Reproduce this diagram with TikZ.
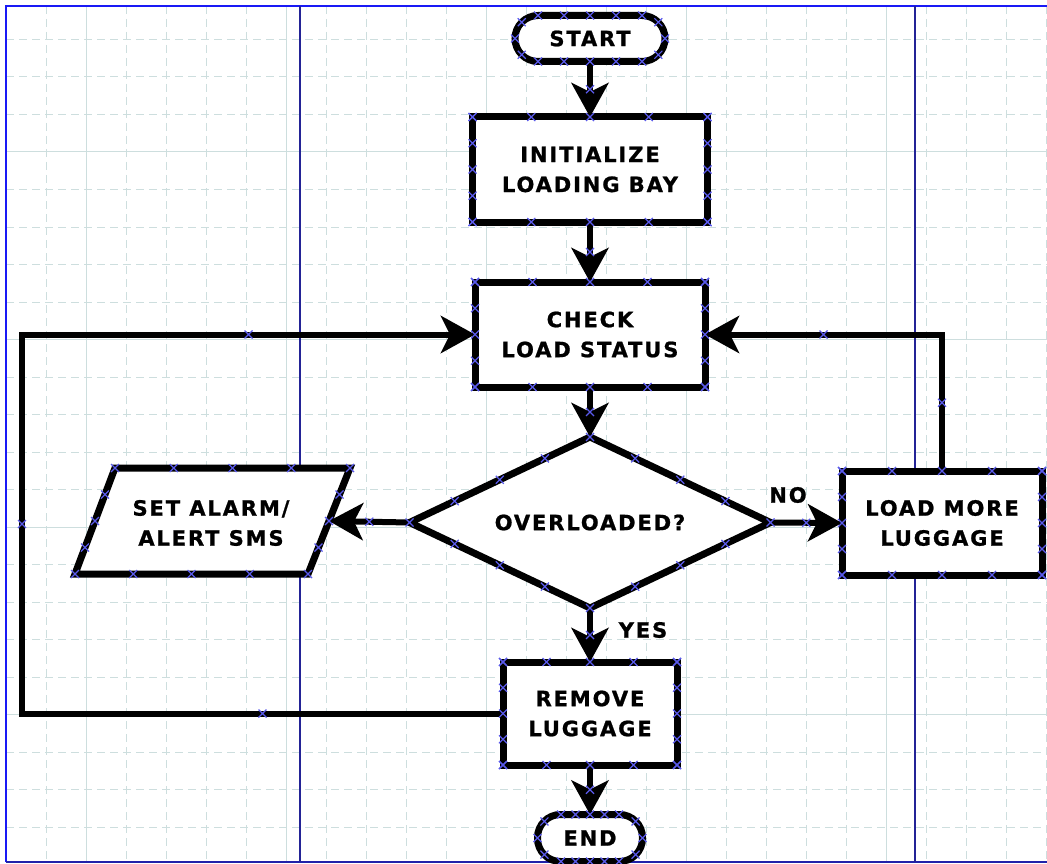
\documentclass[tikz,border=0pt]{standalone}
\usepackage{fontspec}
\newfontfamily\chartfont{DejaVu Sans}[LetterSpace=9,FakeBold=1]
\usetikzlibrary{arrows.meta,shapes.geometric,calc}

\definecolor{gridline}{RGB}{205,222,222}
\definecolor{pageblue}{RGB}{25,25,245}
\definecolor{guideblue}{RGB}{35,35,150}
\definecolor{markblue}{RGB}{90,90,235}

\tikzset{
  chartfontstyle/.style={font=\chartfont\bfseries\fontsize{21}{30}\selectfont},
  box/.style={draw=black, line width=7pt, fill=white, outer sep=0pt, inner sep=0pt,
              align=center, chartfontstyle},
  term/.style={box, rounded corners=23pt},
  decision/.style={box, diamond, aspect=2.1},
  lbl/.style={inner sep=0pt, align=center, chartfontstyle},
  shapeline/.style={draw=black, line width=7pt, fill=white},
  conn/.style={draw=black, line width=6pt,
               -{Stealth[length=34pt,width=37pt,inset=9pt]}},
  cpmark/.style={draw=markblue, line width=1.1pt},
  minorgrid/.style={draw=gridline, line width=1pt, dash pattern=on 8pt off 5pt},
  majorgrid/.style={draw=gridline, line width=1pt},
  pageline/.style={draw=pageblue, line width=2pt},
  guideline/.style={draw=guideblue, line width=1.5pt},
}

% small connection-point cross
\newcommand\cpx[1]{\draw[cpmark] #1 ++(-4,-4) -- ++(8,8) ++(-8,0) -- ++(8,-8);}

\begin{document}
\begin{tikzpicture}[x=1pt,y=-1pt]
\useasboundingbox (0,0) rectangle (1047,864);
\clip (0,0) rectangle (1047,864);

% drawing grid
\foreach \k in {1,...,26}{
  \draw[minorgrid] ({6+40*\k},6) -- ({6+40*\k},862);
}
\foreach \k in {1,...,22}{
  \draw[minorgrid] (6,{2+37.5*\k}) -- (1047,{2+37.5*\k});
}
\foreach \gx in {86,286,486,686,886}{
  \draw[majorgrid] (\gx,6) -- (\gx,862);
}
\foreach \gy in {152,339.5,527,714.5}{
  \draw[majorgrid] (6,\gy) -- (1047,\gy);
}

% page edges and guides
\draw[pageline] (6,862) -- (6,6) -- (1047,6);
\draw[draw=guideblue!80!pageblue, line width=1.5pt] (6,862) -- (1047,862);
\draw[guideline] (300,6) -- (300,862);
\draw[guideline] (915,6) -- (915,862);

% flowchart nodes
\node[term, minimum width=150pt, minimum height=46pt] (start) at (590,38.5) {START};
\node[box, minimum width=235pt, minimum height=105pt] (init) at (590,169.5) {INITIALIZE\\LOADING BAY};
\node[box, minimum width=230pt, minimum height=105pt] (check) at (590,334.5) {CHECK\\LOAD STATUS};
\node[decision, minimum width=361pt, minimum height=171pt] (dia) at (590,522.5) {OVERLOADED?};
\node[box, minimum width=200pt, minimum height=104pt] (more) at (942,523) {LOAD MORE\\LUGGAGE};
\node[box, minimum width=174pt, minimum height=103pt] (remove) at (590,713.5) {REMOVE\\LUGGAGE};
\node[term, minimum width=105pt, minimum height=47pt] (end) at (590,838) {END};

% input/output parallelogram
\coordinate (aTL) at (115,468);
\coordinate (aTR) at (350,468);
\coordinate (aBR) at (308,574);
\coordinate (aBL) at (75,574);
\draw[shapeline] (aTL) -- (aTR) -- (aBR) -- (aBL) -- cycle;
\node[lbl] (alarm) at (211,523) {SET ALARM/\\ALERT SMS};
\coordinate (alarmR) at ($(aTR)!0.5!(aBR)$);

% branch labels
\node[lbl] (no) at (788,495) {NO};
\node[lbl] (yes) at (643,630) {YES};

% connectors
\coordinate (leftrail) at (22,0);
\draw[conn] (start.south) -- (init.north);
\draw[conn] (init.south) -- (check.north);
\draw[conn] (check.south) -- (dia.north);
\draw[conn] (dia.west) -- (alarmR);
\draw[conn] (dia.east) -- (more.west);
\draw[conn] (dia.south) -- (remove.north);
\draw[conn] (remove.south) -- (end.north);
\draw[conn] (more.north) |- (check.east);
\draw[conn] (remove.west) -- (remove.west -| leftrail) |- (check.west);

% connection points on boxes
\foreach \n in {init,check,more,remove}{
  \foreach \t in {0,0.25,0.5,0.75,1}{
    \cpx{($(\n.north west)!\t!(\n.north east)$)}
    \cpx{($(\n.south west)!\t!(\n.south east)$)}
    \cpx{($(\n.north west)!\t!(\n.south west)$)}
    \cpx{($(\n.north east)!\t!(\n.south east)$)}
  }
}
% connection points on the decision
\foreach \a/\b in {north/east,east/south,south/west,west/north}{
  \foreach \t in {0,0.25,0.5,0.75}{
    \cpx{($(dia.\a)!\t!(dia.\b)$)}
  }
}
% connection points on the parallelogram
\foreach \a/\b in {aTL/aTR,aTR/aBR,aBR/aBL,aBL/aTL}{
  \foreach \t in {0,0.25,0.5,0.75}{
    \cpx{($(\a)!\t!(\b)$)}
  }
}
% connection points on the terminators
\foreach \n/\r in {start/23,end/23.5}{
  \coordinate (lc) at ($(\n.west)+(\r,0)$);
  \coordinate (rc) at ($(\n.east)+(-\r,0)$);
  \foreach \t in {0,0.25,0.5,0.75,1}{
    \cpx{($(lc)!\t!(rc)+(0,-\r)$)}
    \cpx{($(lc)!\t!(rc)+(0,\r)$)}
  }
  \foreach \ang in {135,180,225}{
    \cpx{($(lc)+(\ang:\r)$)}
  }
  \foreach \ang in {45,0,-45}{
    \cpx{($(rc)+(\ang:\r)$)}
  }
}
% connection points on connectors
\cpx{($(start.south)!0.5!(init.north)$)}
\cpx{($(init.south)!0.5!(check.north)$)}
\cpx{($(check.south)!0.5!(dia.north)$)}
\cpx{($(dia.south)!0.5!(remove.north)$)}
\cpx{($(remove.south)!0.5!(end.north)$)}
\cpx{($(dia.west)!0.5!(alarmR)$)}
\cpx{($(dia.east)!0.5!(more.west)$)}
\cpx{($(more.north)!0.5!(more.north |- check.east)$)}
\cpx{($(more.north |- check.east)!0.5!(check.east)$)}
\cpx{($(remove.west)!0.5!(remove.west -| leftrail)$)}
\cpx{($(remove.west -| leftrail)!0.5!(check.west -| leftrail)$)}
\cpx{($(check.west -| leftrail)!0.5!(check.west)$)}
\end{tikzpicture}
\end{document}
